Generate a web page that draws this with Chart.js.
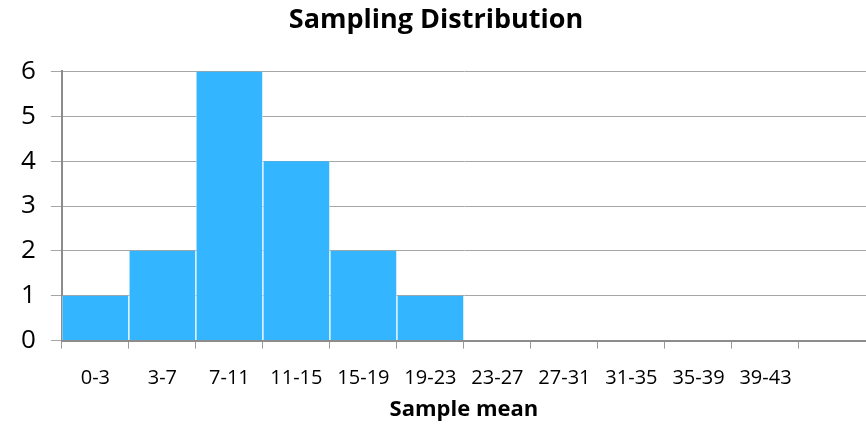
<!DOCTYPE html>
<html>
<head>
<meta charset="utf-8">
<script src="https://cdn.jsdelivr.net/npm/chart.js@4/dist/chart.umd.min.js"></script>
<style>
  html, body { margin: 0; padding: 0; background: #fff; }
  #wrap { width: 866px; height: 425px; }
</style>
</head>
<body>
<div id="wrap"><canvas id="histChart" width="866" height="425"></canvas></div>
<script>
var binLabels = ['0-3', '3-7', '7-11', '11-15', '15-19', '19-23', '23-27', '27-31', '31-35', '35-39', '39-43', ''];
var binCounts = [1, 2, 6, 4, 2, 1, 0, 0, 0, 0, 0, 0];
var yTicks = [0, 1, 2, 3, 4, 5, 6];

var ctx = document.getElementById('histChart').getContext('2d');
var fontFamily = '"Open Sans", Lato, sans-serif';

var chart = new Chart(ctx, {
    type: 'bar',
    data: {
        labels: binLabels,
        datasets: [{
            label: 'Frequency',
            data: binCounts,
            backgroundColor: '#33b5ff',
            borderColor: 'rgba(255,255,255,0.55)',
            borderWidth: { left: 1, right: 1, top: 0, bottom: 0 },
            barPercentage: 1.0,
            categoryPercentage: 1.0
        }]
    },
    options: {
        responsive: false,
        animation: false,
        devicePixelRatio: 1,
        layout: { padding: { left: 6, right: 0, top: 2, bottom: 2 } },
        plugins: {
            legend: { display: false },
            tooltip: { enabled: false },
            title: {
                display: true,
                text: 'Sampling Distribution',
                color: '#000',
                font: { family: fontFamily, size: 27, weight: 'bold' },
                padding: { top: 2, bottom: 35 }
            }
        },
        scales: {
            x: {
                grid: {
                    display: true,
                    drawOnChartArea: false,
                    drawTicks: true,
                    tickLength: 8,
                    color: '#999',
                    offset: true
                },
                border: { display: true, color: '#8c8c8c', width: 2 },
                ticks: {
                    color: '#000',
                    font: { family: fontFamily, size: 20 },
                    padding: 18,
                    maxRotation: 0,
                    autoSkip: false
                },
                title: {
                    display: true,
                    text: 'Sample mean',
                    color: '#000',
                    font: { family: fontFamily, size: 22, weight: 'bold' },
                    padding: { top: -12, bottom: 0 }
                }
            },
            y: {
                min: 0,
                max: 6,
                afterBuildTicks: function(axis) {
                    axis.ticks = yTicks.map(function(v) { return { value: v }; });
                },
                grid: {
                    color: '#a6a6a6',
                    lineWidth: 1,
                    tickLength: 11
                },
                border: { display: true, color: '#8c8c8c', width: 2 },
                ticks: {
                    color: '#000',
                    font: { family: fontFamily, size: 26 },
                    padding: 15
                }
            }
        }
    }
});
</script>
</body>
</html>
